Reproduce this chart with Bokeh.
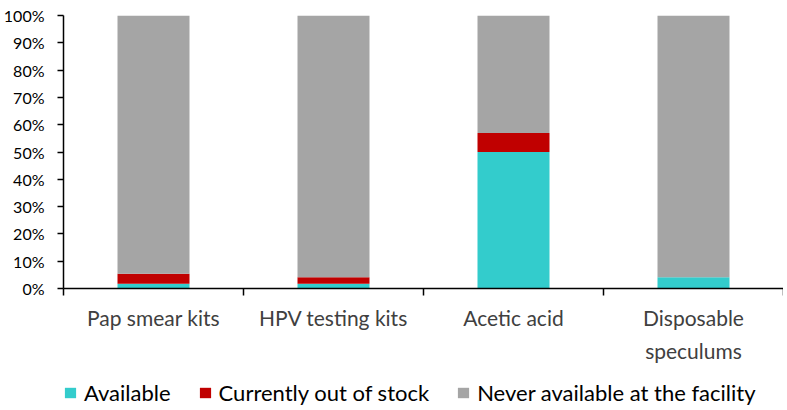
from bokeh.plotting import figure
from bokeh.layouts import column
from bokeh.models import (Range1d, FixedTicker, LinearAxis, Legend, LegendItem,
                          ColumnDataSource)
from bokeh.embed import file_html
from bokeh.resources import INLINE

categories = ["Pap smear kits", "HPV testing kits", "Acetic acid", "Disposable\nspeculums"]
available = [1.7, 1.7, 50.0, 4.1]
out_of_stock = [3.7, 2.4, 7.0, 0.0]
never = [100 - a - o for a, o in zip(available, out_of_stock)]
series = ["Available", "Currently out of stock", "Never available at the facility"]
colors = ["#33CCCC", "#C00000", "#A5A5A5"]
y_ticks = list(range(0, 101, 10))

xs = [i + 0.5 for i in range(len(categories))]
src = ColumnDataSource(dict(x=xs, available=available, out_of_stock=out_of_stock, never=never))
stack_cols = ["available", "out_of_stock", "never"]

FONT = "Lato"
W = 783

p = figure(width=W, height=368, output_backend="svg", toolbar_location=None,
           x_range=Range1d(0, len(categories)), y_range=Range1d(0, 100),
           min_border_left=61, min_border_right=0, min_border_top=15, min_border_bottom=80,
           x_axis_location=None, y_axis_location=None)
p.outline_line_color = None
p.grid.visible = False

p.vbar_stack(stack_cols, x="x", width=0.4, source=src, color=colors, line_color=None)

yaxis = LinearAxis(ticker=FixedTicker(ticks=y_ticks))
yaxis.major_label_overrides = {t: f"{t}%" for t in y_ticks}
yaxis.axis_line_color = "black"
yaxis.axis_line_width = 1.5
yaxis.major_tick_in = 0
yaxis.major_tick_out = 6
yaxis.major_tick_line_color = "black"
yaxis.major_tick_line_width = 1.5
yaxis.minor_tick_line_color = None
yaxis.major_label_text_font = FONT
yaxis.major_label_text_font_size = "16px"
yaxis.major_label_text_color = "black"
yaxis.major_label_standoff = 13
p.add_layout(yaxis, "left")

xaxis = LinearAxis(ticker=FixedTicker(ticks=xs, minor_ticks=list(range(len(categories) + 1))))
xaxis.major_label_overrides = {x: c for x, c in zip(xs, categories)}
xaxis.axis_line_color = "black"
xaxis.axis_line_width = 1.5
xaxis.major_tick_line_color = None
xaxis.major_tick_in = 0
xaxis.major_tick_out = 0
xaxis.minor_tick_in = 0
xaxis.minor_tick_out = 7
xaxis.minor_tick_line_color = "black"
xaxis.minor_tick_line_width = 1.5
xaxis.major_label_text_font = FONT
xaxis.major_label_text_font_size = "21px"
xaxis.major_label_text_color = "#404040"
xaxis.major_label_text_line_height = 1.33
xaxis.major_label_standoff = 9
p.add_layout(xaxis, "below")

# legend strip (bars lie outside its visible range; only the legend shows)
lg = figure(width=W, height=38, output_backend="svg", toolbar_location=None,
            x_range=Range1d(-20, -19), y_range=Range1d(0, 100),
            min_border_left=42, min_border_right=0, min_border_top=0, min_border_bottom=0,
            x_axis_location=None, y_axis_location=None)
lg.outline_line_color = None
lg.grid.visible = False
rs = lg.vbar_stack(stack_cols, x="x", width=0.4, source=src, color=colors, line_color=None)

legend = Legend(items=[LegendItem(label=s, renderers=[r]) for s, r in zip(series, rs)],
                orientation="horizontal", location="bottom_left",
                label_text_font=FONT, label_text_font_size="22px", label_text_color="black",
                glyph_width=14, glyph_height=13, label_standoff=7, spacing=27,
                border_line_color=None, background_fill_alpha=0, padding=0, margin=0)
lg.add_layout(legend, "center")

layout = column(p, lg, spacing=0)
open("out.html", "w").write(file_html(layout, INLINE))
